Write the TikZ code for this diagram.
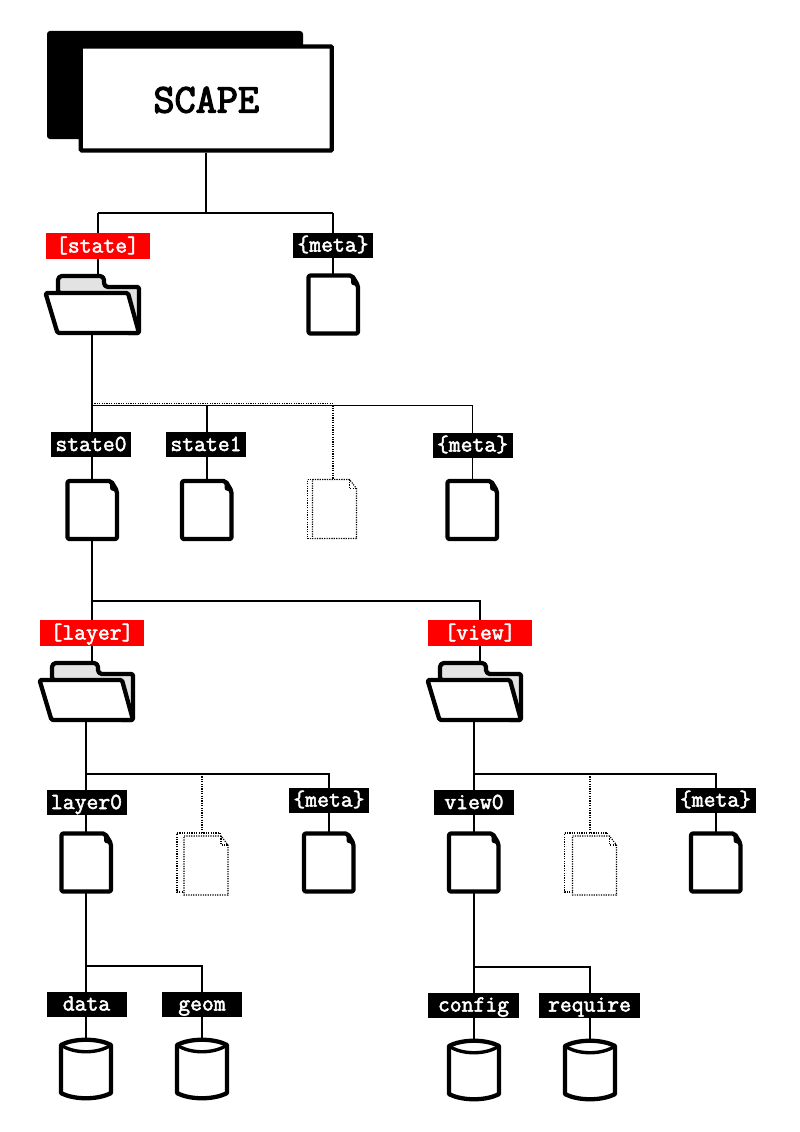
\documentclass[tikz,border=0pt]{standalone}
\usepackage{fontspec}
\newfontfamily\labfont[FakeBold=2.2]{Latin Modern Mono}
\newfontfamily\titlefont[FakeBold=3.2]{Latin Modern Mono}
\pgfdeclarelayer{bg}
\pgfsetlayers{bg,main}
\tikzset{
  lab/.style={fill=black,text=white,font=\labfont\fontsize{23}{25}\selectfont,inner sep=0pt,minimum width=#1,minimum height=25pt,text height=15pt,text depth=2pt},
  lab/.default=80pt,
  redlab/.style={lab=104pt,fill=red,minimum height=26pt},
  wire/.style={line width=1.4pt,black},
  ghostwire/.style={line width=1.1pt,black,dash pattern=on 1.2pt off 1.2pt},
  icon/.style={line width=4.3pt,line join=round,draw=black,fill=white},
  ghost/.style={line width=1.1pt,draw=black,dash pattern=on 1.2pt off 1.2pt},
  anchorbox/.style={inner sep=0pt,minimum width=#1,minimum height=60pt},
}
% x,y = outer top-left corner of each icon
\newcommand{\docicon}[3]{%
  \node[anchorbox=53pt] (#1) at (#2+26.5,#3+30.5) {};
  \begin{scope}[shift={(#2+2,#3+2)}]
    \draw[icon,rounded corners=2pt] (0,0) -- (43.5,0) -- (49.5,10) -- (49.5,58) -- (0,58) -- cycle;
    \draw[line width=2.4pt,line join=round,fill=black] (43.5,1) -- (44,8) -- (48.5,9.5);
  \end{scope}}
\newcommand{\ghostdoc}[5]{% name, x, y, front x offset, front y offset
  \node[anchorbox=50pt] (#1) at (#2+25,#3+30) {};
  \begin{scope}[shift={(#2,#3)}]
    \draw[ghost] (0,0) -- (43,0) -- (43,59) -- (0,59) -- cycle;
    \begin{scope}[shift={(#4,#5)}]
      \draw[ghost,fill=white] (0,0) -- (37,0) -- (44,9) -- (44,59) -- (0,59) -- cycle;
      \draw[ghost] (37,0) -- (37,9) -- (44,9);
    \end{scope}
  \end{scope}}
\newcommand{\foldericon}[3]{%
  \node[anchorbox=97pt] (#1) at (#2+48.5,#3+30.5) {};
  \coordinate (#1-top) at (#2+54,#3);
  \coordinate (#1-bot) at (#2+48,#3+60);
  \begin{scope}[shift={(#2,#3)}]
    \draw[icon,fill=black!11] [rounded corners=4pt] (14,18) -- (14,2) -- (60,2) -- (60,13) [rounded corners=1.5pt] -- (95,13) -- (95,59) -- (83,59) -- cycle;
    \draw[icon,rounded corners=1.5pt] (1.5,19) -- (84,19) -- (95,59) -- (13.5,59) -- cycle;
  \end{scope}}
\newcommand{\cylicon}[3]{%
  \node[anchorbox=54pt] (#1) at (#2+27,#3+31) {};
  \begin{scope}[shift={(#2,#3)}]
    \draw[icon] (2,7) .. controls (15,0) and (39,0) .. (52,7) -- (52,55) .. controls (39,62) and (15,62) .. (2,55) -- cycle;
    \draw[line width=3.4pt] (2,7) .. controls (15,16) and (39,16) .. (52,7);
  \end{scope}}
\begin{document}
\begin{tikzpicture}[x=1pt,y=-1pt]
\useasboundingbox (0,0) rectangle (800,1132);
% title
\node[fill=black,rounded corners=3pt,inner sep=0pt,minimum width=256pt,minimum height=108pt] (back) at (175,85) {};
\node[draw=black,fill=white,line width=4.3pt,rounded corners=1pt,inner sep=0pt,minimum width=251pt,minimum height=104pt,text height=28pt,text depth=0pt,font=\titlefont\fontsize{41}{45}\selectfont] (scape) at (206.3,98.5) {SCAPE};
% labels
\node[redlab] (lstate) at (97.5,246) {[state]};
\node[lab] (lmeta) at (333,245) {\{meta\}};
\node[lab] (lstate0) at (91,444.5) {state0};
\node[lab] (lstate1) at (206,444.5) {state1};
\node[lab] (lmetab) at (472.5,445) {\{meta\}};
\node[redlab] (llayer) at (92,633) {[layer]};
\node[redlab] (lview) at (480,633) {[view]};
\node[lab] (llayer0) at (86.5,802.5) {layer0};
\node[lab] (lmetac) at (329,800) {\{meta\}};
\node[lab] (lview0) at (474,802.5) {view0};
\node[lab] (lmetad) at (715.5,800) {\{meta\}};
\node[lab] (ldata) at (86.5,1004) {data};
\node[lab] (lgeom) at (202,1004) {geom};
\node[lab=91pt] (lconfig) at (473.5,1005) {config};
\node[lab=101pt] (lrequire) at (589.5,1005) {require};
% icons
\foldericon{fstate}{44}{274}
\docicon{dmeta}{306.5}{273.5}
\docicon{dstate0}{65.5}{479}
\docicon{dstate1}{180}{479}
\ghostdoc{gstate}{307.5}{479.5}{5}{0}
\docicon{dmetab}{445.5}{479}
\foldericon{flayer}{38}{661}
\foldericon{fview}{426}{661}
\docicon{dlayer0}{59.5}{831.5}
\ghostdoc{glayer}{177}{833}{7}{3}
\docicon{dmetac}{302}{831.5}
\docicon{dview0}{447}{831.5}
\ghostdoc{gview}{564.5}{833}{8}{3}
\docicon{dmetad}{689}{831.5}
\cylicon{cdata}{59}{1038}
\cylicon{cgeom}{175}{1038}
\cylicon{cconfig}{447}{1039}
\cylicon{crequire}{563}{1039}
% bus points
\coordinate (b1) at (206,213);
\coordinate (b2) at (92,405.3);
\coordinate (b2d) at (92,403.8);
\coordinate (b3) at (92,601);
\coordinate (b4) at (86,774);
\coordinate (b5) at (474,774);
\coordinate (b6) at (86,966);
\coordinate (b7) at (474,967);
\coordinate (xst) at (98,233);
\coordinate (xme) at (333,233);
\coordinate (xs1) at (207,433);
\coordinate (xmb) at (472.5,433);
\coordinate (xgs) at (333,433);
\coordinate (xvw) at (480,620);
\coordinate (xmc) at (329,787);
\coordinate (xgl) at (202,787);
\coordinate (xmd) at (716,787);
\coordinate (xgv) at (590,787);
\coordinate (xge) at (202,992);
\coordinate (xrq) at (590,992);
\begin{pgfonlayer}{bg}
\draw[wire] (b1 |- scape.south) -- (b1);
\draw[wire] (xst |- b1) -- (xme |- b1);
\draw[wire] (xst |- b1) -- (xst |- fstate-top);
\draw[wire] (xme |- b1) -- (xme |- dmeta.north);
\draw[wire] (fstate-bot) -- (fstate-bot |- b2) -- (xmb |- b2);
\draw[wire] (b2) -- (b2 |- dstate0.north);
\draw[wire] (xs1 |- b2) -- (xs1 |- dstate1.north);
\draw[wire] (xmb |- b2) -- (xmb |- dmetab.north);
\draw[ghostwire] (b2d) -- (xgs |- b2d);
\draw[ghostwire] (xgs |- b2) -- (xgs |- gstate.north);
\draw[wire] (b2 |- dstate0.south) -- (b3);
\draw[wire] (b3) -- (xvw |- b3) -- (xvw |- fview-top);
\draw[wire] (b3) -- (b3 |- flayer-top);
\draw[wire] (flayer-bot) -- (flayer-bot |- b4) -- (xmc |- b4) -- (xmc |- dmetac.north);
\draw[wire] (b4) -- (b4 |- dlayer0.north);
\draw[ghostwire] (xgl |- b4) -- (xgl |- glayer.north);
\draw[wire] (fview-bot) -- (fview-bot |- b5) -- (xmd |- b5) -- (xmd |- dmetad.north);
\draw[wire] (b5) -- (b5 |- dview0.north);
\draw[ghostwire] (xgv |- b5) -- (xgv |- gview.north);
\draw[wire] (b4 |- dlayer0.south) -- (b6);
\draw[wire] (b6) -- (xge |- b6) -- (xge |- cgeom.north);
\draw[wire] (b6) -- (b6 |- cdata.north);
\draw[wire] (b5 |- dview0.south) -- (b7);
\draw[wire] (b7) -- (xrq |- b7) -- (xrq |- crequire.north);
\draw[wire] (b7) -- (b7 |- cconfig.north);
\end{pgfonlayer}
\end{tikzpicture}
\end{document}
